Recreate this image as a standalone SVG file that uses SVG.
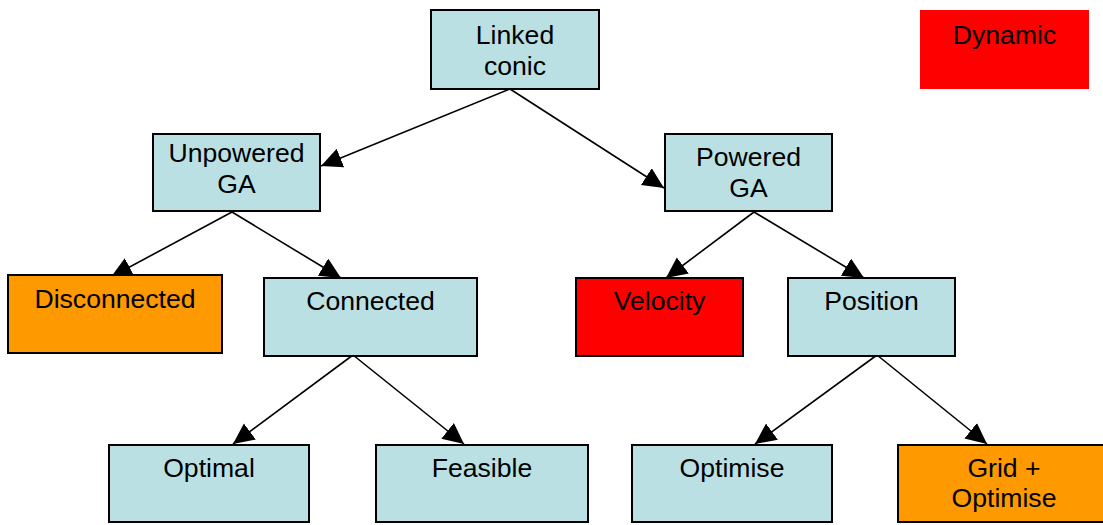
<svg xmlns="http://www.w3.org/2000/svg" width="1103" height="525" viewBox="0 0 1103 525">
<style>
.box{stroke:#000;stroke-width:2}
.blue{fill:#BBE0E3}
.orange{fill:#FF9900}
.red{fill:#FF0000}
text{font-family:"Liberation Sans",Arial,sans-serif;font-size:26.6px;fill:#000;text-anchor:middle}
.edge{stroke:#000;stroke-width:1.6;fill:none;marker-end:url(#arr)}
</style>
<defs>
<marker id="arr" markerUnits="userSpaceOnUse" markerWidth="22" markerHeight="22" refX="21" refY="10" orient="auto">
<path d="M0,0 L21,10 L0,20 z" fill="#000"/>
</marker>
</defs>
<rect width="1103" height="525" fill="#fff"/>
<g id="connectors">
<line class="edge" x1="510" y1="89" x2="321" y2="166"/>
<line class="edge" x1="510" y1="89" x2="664" y2="188"/>
<line class="edge" x1="232" y1="212" x2="111" y2="277"/>
<line class="edge" x1="232" y1="212" x2="341" y2="278"/>
<line class="edge" x1="754" y1="212" x2="666" y2="278"/>
<line class="edge" x1="754" y1="212" x2="864" y2="278"/>
<line class="edge" x1="353" y1="355" x2="233" y2="444"/>
<line class="edge" x1="353" y1="355" x2="464" y2="444"/>
<line class="edge" x1="877" y1="355" x2="755" y2="444"/>
<line class="edge" x1="877" y1="355" x2="987" y2="444"/>
</g>
<g id="linked-conic"><rect class="box blue" x="431" y="10" width="168" height="79"/><text x="515" y="44">Linked</text><text x="515" y="75">conic</text></g>
<g id="dynamic"><rect class="red" x="920" y="10" width="169" height="79"/><text x="1004.5" y="44">Dynamic</text></g>
<g id="unpowered-ga"><rect class="box blue" x="153" y="134" width="167" height="77"/><text x="236.5" y="162">Unpowered</text><text x="236.5" y="193">GA</text></g>
<g id="powered-ga"><rect class="box blue" x="665" y="134" width="167" height="77"/><text x="748.5" y="166">Powered</text><text x="748.5" y="197">GA</text></g>
<g id="disconnected"><rect class="box orange" x="8" y="275" width="214" height="78"/><text x="115" y="308">Disconnected</text></g>
<g id="connected"><rect class="box blue" x="264" y="278" width="213" height="78"/><text x="370.5" y="310">Connected</text></g>
<g id="velocity"><rect class="box red" x="576" y="278" width="167" height="78"/><text x="659.5" y="310">Velocity</text></g>
<g id="position"><rect class="box blue" x="788" y="278" width="167" height="78"/><text x="871.5" y="310">Position</text></g>
<g id="optimal"><rect class="box blue" x="109" y="445" width="200" height="77"/><text x="209" y="477">Optimal</text></g>
<g id="feasible"><rect class="box blue" x="376" y="445" width="212" height="77"/><text x="482" y="477">Feasible</text></g>
<g id="optimise"><rect class="box blue" x="632" y="445" width="200" height="77"/><text x="732" y="477">Optimise</text></g>
<g id="grid-optimise"><rect class="box orange" x="898" y="445" width="212" height="77"/><text x="1004" y="477">Grid +</text><text x="1004" y="507">Optimise</text></g>
</svg>
